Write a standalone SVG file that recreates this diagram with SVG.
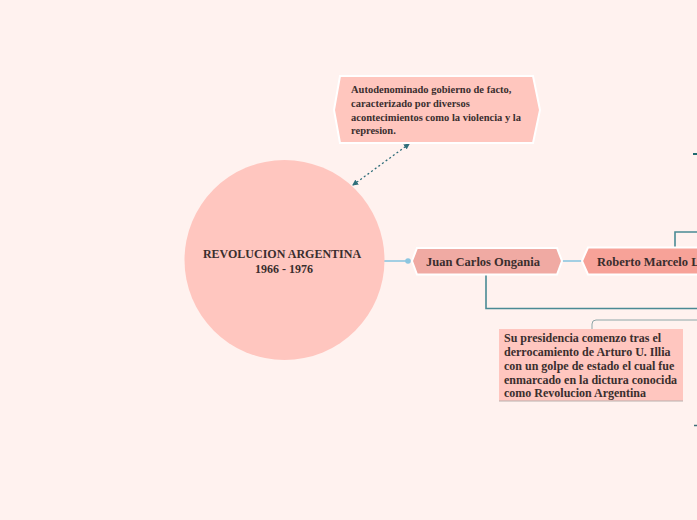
<svg xmlns="http://www.w3.org/2000/svg" width="697" height="520" viewBox="0 0 697 520">
<style>
.t{font-family:"Liberation Serif","Times New Roman",serif;font-weight:bold;fill:#3a2e2e}
.c{fill:none;stroke:#4a8a94;stroke-width:1.6}
.b{fill:none;stroke:#8cc6e0;stroke-width:1.6}
.hx{stroke:#ffffff;stroke-width:2}
</style>
<defs>
<marker id="ar" viewBox="0 0 6 6" refX="5" refY="3" markerWidth="6" markerHeight="6" orient="auto-start-reverse" markerUnits="userSpaceOnUse">
<path d="M0,0 L6,3 L0,6 Z" fill="#2f6e7a"/>
</marker>
</defs>
<rect width="697" height="520" fill="#fff2ef"/>
<g id="connectors">
<line x1="353" y1="185" x2="409" y2="144" stroke="#2f6e7a" stroke-width="1.3" stroke-dasharray="2,2.5" marker-start="url(#ar)" marker-end="url(#ar)"/>
<line class="b" x1="384" y1="261" x2="408" y2="261"/>
<circle cx="408" cy="261" r="2.8" fill="#8cc6e0"/>
<line class="b" x1="562" y1="261" x2="583" y2="261"/>
<path class="c" d="M675,248 V232 H697"/>
<path class="c" d="M486,275 V308.5 H697" stroke-width="1.8"/>
<path d="M592,329 V324 Q592,320 596,320 H697" fill="none" stroke="#8ea6a8" stroke-width="1"/>
<line x1="693" y1="154" x2="697" y2="154" stroke="#1f6b70" stroke-width="2"/>
<line x1="694" y1="425.5" x2="697" y2="425.5" stroke="#3d6f78" stroke-width="1.5"/>
</g>
<g id="root">
<circle cx="284.5" cy="260" r="100" fill="#ffc6bf"/>
<text class="t" x="282" y="258" font-size="12" text-anchor="middle">REVOLUCION ARGENTINA</text>
<text class="t" x="284" y="273" font-size="12" text-anchor="middle">1966 - 1976</text>
</g>
<g id="callout">
<path class="hx" d="M340,76 H533 L540,110 L533,143 H340 L334,110 Z" fill="#ffc6be"/>
<text class="t" font-size="10.5"><tspan x="351" y="93">Autodenominado gobierno de facto,</tspan><tspan x="351" y="107">caracterizado por diversos</tspan><tspan x="351" y="120.5">acontecimientos como la violencia y la</tspan><tspan x="351" y="134">represion.</tspan></text>
</g>
<g id="ongania">
<path class="hx" d="M417,248 H557 L562,261 L557,274.5 H417 L412,261 Z" fill="#f0aaa3"/>
<text class="t" x="483" y="265.5" font-size="12.5" text-anchor="middle">Juan Carlos Ongania</text>
</g>
<g id="levingston">
<path class="hx" d="M588,247.5 H720 L725,261 L720,274.5 H588 L582,261 Z" fill="#f7a298"/>
<text class="t" x="597" y="265.5" font-size="12.5">Roberto Marcelo L</text>
</g>
<g id="nota">
<rect x="499" y="329" width="184" height="72" fill="#ffc6bf"/>
<line x1="499" y1="401" x2="683" y2="401" stroke="#b9b0ae" stroke-width="1"/>
<text class="t" font-size="12"><tspan x="504" y="342">Su presidencia comenzo tras el</tspan><tspan x="504" y="356">derrocamiento de Arturo U. Illia</tspan><tspan x="504" y="370">con un golpe de estado el cual fue</tspan><tspan x="504" y="384">enmarcado en la dictura conocida</tspan><tspan x="504" y="397">como Revolucion Argentina</tspan></text>
</g>
</svg>
